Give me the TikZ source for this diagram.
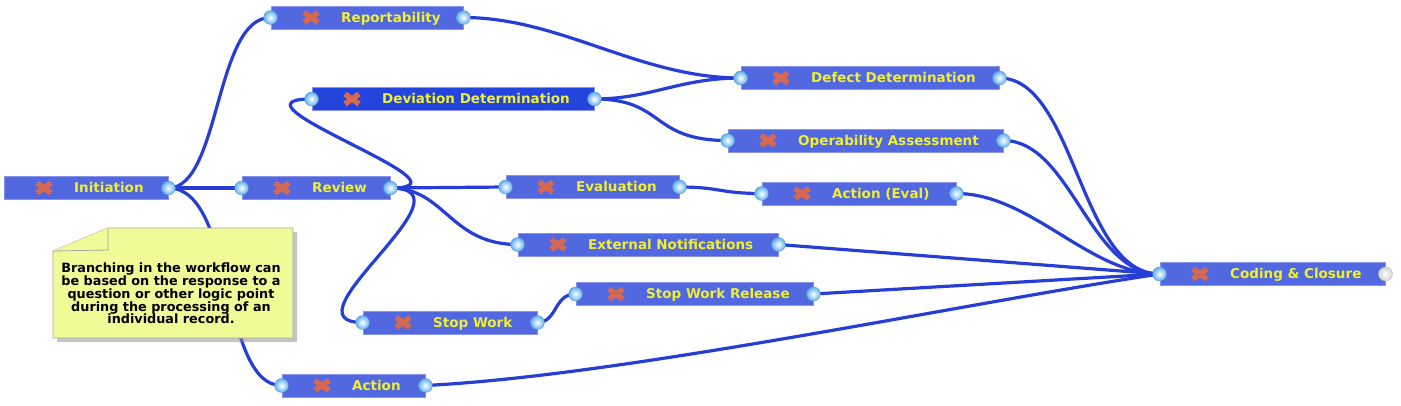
\documentclass[tikz,border=0pt]{standalone}
\usepackage{fontspec}
\setmainfont{DejaVu Sans}
\usepackage{tikz}
\usetikzlibrary{shapes,shadows,backgrounds}
\definecolor{stepblue}{RGB}{82,104,224}
\definecolor{deepblue}{RGB}{36,68,222}
\definecolor{wireblue}{RGB}{38,62,214}
\definecolor{labelyellow}{RGB}{240,240,48}
\definecolor{crossred}{RGB}{214,104,82}
\definecolor{portblue}{RGB}{96,176,240}
\definecolor{notefill}{RGB}{240,250,150}

\begin{document}
\begin{tikzpicture}[x=1pt,y=-1pt,
    stepbox/.style={draw=stepblue!70!white, line width=0.8pt, minimum height=23pt, inner sep=0pt},
    steplabel/.style={text=labelyellow, font=\bfseries\fontsize{13.5}{15}\selectfont, anchor=west, text height=9.8pt, text depth=0pt, inner sep=0pt},
    crossmark/.style={crossred, line width=5.5pt},
    port/.style={circle, minimum size=14pt, inner sep=0pt, shade, inner color=white, outer color=portblue, draw=portblue!80!black, line width=0.3pt},
    wire/.style={wireblue, line width=3.2pt},
    notepaper/.style={fill=notefill, draw=gray!70, line width=0.8pt},
    notetext/.style={align=center, font=\bfseries\fontsize{12.8}{12.75}\selectfont}]
    \useasboundingbox (0,0) rectangle (1401,405);
    \foreach \n/\l/\r/\y/\col/\txt in {init/4/168/188/stepblue/Initiation,
        rep/271/463/17.5/stepblue/Reportability,
        dev/312/594/99/deepblue/Deviation Determination,
        def/741/999/78/stepblue/Defect Determination,
        oper/728/1003/140.5/stepblue/Operability Assessment,
        rev/242/390/188/stepblue/Review,
        eval/506/679/187/stepblue/Evaluation,
        acteval/762/956/193.5/stepblue/Action (Eval),
        extn/518/778/244.5/stepblue/External Notifications,
        close/1160/1385/274/stepblue/Coding \& Closure,
        swrel/576/813/294/stepblue/Stop Work Release,
        stopw/363/537/322.5/stepblue/Stop Work,
        act/282/425/385.5/stepblue/Action}
    {
        \node[stepbox, fill=\col, minimum width=\r-\l] (\n) at ({(\l+\r)/2},\y) {};
        \draw[crossmark] ({\l+33},\y-5) -- ({\l+47},\y+5) ({\l+33},\y+5) -- ({\l+47},\y-5);
        \node[steplabel] (\n-text) at ({\l+70},\y) {\txt};
    }
    \foreach \n in {rep,dev,def,oper,rev,eval,acteval,extn,close,swrel,stopw,act}
        \node[port] (\n-in) at (\n.west) {};
    \foreach \n in {init,rep,dev,def,oper,rev,eval,acteval,extn,swrel,stopw,act}
        \node[port] (\n-out) at (\n.east) {};
    \node[port, outer color=gray!35, draw=gray!60] (close-out) at (close.east) {};

    \begin{scope}[on background layer]
        \draw[wire] (init.east) .. controls +(52,0) and +(-56,0) .. (rep.west);
        \draw[wire] (init.east) -- (rev.west);
        \draw[wire] (init.east) .. controls +(67,0) and +(-62,0) .. (act.west);
        \draw[wire] (rev.east) -- (eval.west);
        \draw[wire] (rev.east) .. controls +(55,0) and +(-68,0) .. (extn.west);
        \draw[wire] (rev.east) .. controls +(95,0) and +(-97,0) .. (dev.west);
        \draw[wire] (rev.east) .. controls +(90,0) and +(-83,0) .. (stopw.west);
        \draw[wire] (rep.east) .. controls +(97,0) and +(-101,0) .. (def.west);
        \draw[wire] (dev.east) .. controls +(56,0) and +(-61,0) .. (def.west);
        \draw[wire] (dev.east) .. controls +(71,0) and +(-78,0) .. (oper.west);
        \draw[wire] (eval.east) .. controls +(41,0) and +(-42,0) .. (acteval.west);
        \draw[wire] (stopw.east) .. controls +(20,0) and +(-22,0) .. (swrel.west);
        \draw[wire] (def.east) .. controls +(76,0) and +(-80,0) .. (close.west);
        \draw[wire] (oper.east) .. controls +(67,0) and +(-70,0) .. (close.west);
        \draw[wire] (acteval.east) .. controls +(74,0) and +(-70,0) .. (close.west);
        \draw[wire] (extn.east) -- (close.west);
        \draw[wire] (swrel.east) -- (close.west);
        \draw[wire] (act.east) .. controls +(200,-10) and +(-200,30) .. (close.west);
    \end{scope}

    \filldraw[notepaper, drop shadow={shadow xshift=4pt, shadow yshift=-4pt, fill=black!45}] (108,228) -- (293,228) -- (293,338) -- (53,338) -- (53,251) -- cycle;
    \filldraw[notepaper] (53,251) -- (108,250) -- (108,228);
    \node[notetext] (note) at (171,293.5) {Branching in the workflow can\\be based on the response to a\\question or other logic point\\during the processing of an\\individual record.};
\end{tikzpicture}
\end{document}
